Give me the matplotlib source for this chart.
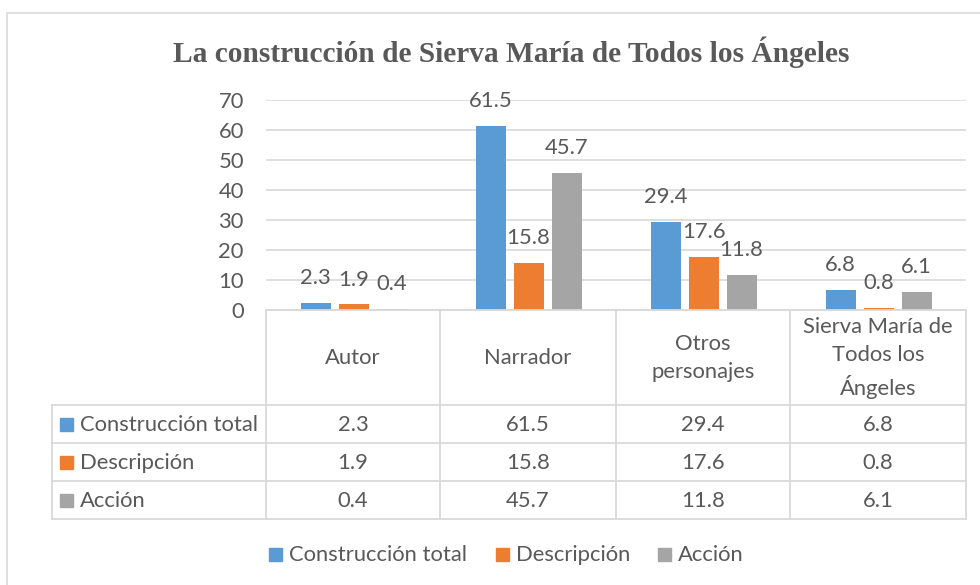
import matplotlib
matplotlib.use("Agg")
import matplotlib.pyplot as plt
import numpy as np
from matplotlib.lines import Line2D
from matplotlib.patches import Rectangle

title = "La construcción de Sierva María de Todos los Ángeles"
categories = ["Autor", "Narrador", "Otros\npersonajes", "Sierva María de\nTodos los\nÁngeles"]
series_names = ["Construcción total", "Descripción", "Acción"]
construccion_total = [2.3, 61.5, 29.4, 6.8]
descripcion = [1.9, 15.8, 17.6, 0.8]
accion = [0.4, 45.7, 11.8, 6.1]
series_values = [construccion_total, descripcion, accion]
colors = ["#5b9bd5", "#ed7d31", "#a5a5a5"]
yticks = [0, 10, 20, 30, 40, 50, 60, 70]

TXT = "#595959"
GRID = "#d9d9d9"
FONT = "Lato"
FS = 15.8

W, H = 980, 585
fig = plt.figure(figsize=(W / 100, H / 100), dpi=100)


def fx(x):
    return x / W


def fy(y):
    return 1 - y / H


# outer border
fig.patches.append(Rectangle((fx(7), fy(600)), fx(990) - fx(7), fy(13) - fy(600),
                             transform=fig.transFigure, fill=False, edgecolor=GRID, lw=1.2))

# title
fig.text(fx(511), fy(62), title, ha="center", va="baseline", family="Liberation Serif",
         weight="bold", fontsize=21.2, color=TXT)

# plot area
px0, px1, py_top, py0 = 266, 966, 100, 310
ax = fig.add_axes([fx(px0), fy(py0), fx(px1) - fx(px0), fy(py_top) - fy(py0)])
ax.set_xlim(-0.5, len(categories) - 0.5)
ax.set_ylim(0, 70)
ax.set_yticks(yticks)
ax.set_xticks([])
for s in ax.spines.values():
    s.set_visible(False)
ax.yaxis.grid(True, color=GRID, lw=1.2)
ax.set_axisbelow(True)
ax.tick_params(axis="y", length=0, pad=16, labelsize=FS, labelcolor=TXT)
for lab in ax.get_yticklabels():
    lab.set_family(FONT)

cat_px = (px1 - px0) / len(categories)
bw = 30 / cat_px
step = 38 / cat_px
x = np.arange(len(categories))
for i, (vals, col) in enumerate(zip(series_values, colors)):
    xs = x + (i - 1) * step
    ax.bar(xs, vals, width=bw, color=col, zorder=2)
    for xi, v in zip(xs, vals):
        ax.annotate(f"{v:.1f}", (xi, v), xytext=(0, 13.5), textcoords="offset points",
                    ha="center", va="baseline", fontsize=FS, color=TXT, family=FONT)

# data table
col_edges = [266, 440, 616, 790, 966]
row_edges = [405, 443, 481, 519]
lbl_left = 52
lk = dict(color=GRID, lw=1.3, transform=fig.transFigure)
fig.add_artist(Line2D([fx(266), fx(966)], [fy(310), fy(310)], **lk))
for ry in row_edges:
    fig.add_artist(Line2D([fx(lbl_left), fx(966)], [fy(ry), fy(ry)], **lk))
for cx in col_edges:
    fig.add_artist(Line2D([fx(cx), fx(cx)], [fy(310), fy(519)], **lk))
fig.add_artist(Line2D([fx(lbl_left), fx(lbl_left)], [fy(405), fy(519)], **lk))

for j, cat in enumerate(categories):
    cx = (col_edges[j] + col_edges[j + 1]) / 2
    fig.text(fx(cx), fy(358), cat, ha="center", va="center", fontsize=FS, color=TXT,
             family=FONT, linespacing=1.52, multialignment="center")

for i, (name, vals, col) in enumerate(zip(series_names, series_values, colors)):
    cy = (row_edges[i] + row_edges[i + 1]) / 2
    fig.patches.append(Rectangle((fx(60), fy(cy + 6.5)), fx(13), 13 / H,
                                 transform=fig.transFigure, color=col))
    fig.text(fx(80), fy(cy + 1), name, ha="left", va="center", fontsize=FS, color=TXT, family=FONT)
    for j, v in enumerate(vals):
        cx = (col_edges[j] + col_edges[j + 1]) / 2
        fig.text(fx(cx), fy(cy + 1), f"{v:.1f}", ha="center", va="center", fontsize=FS,
                 color=TXT, family=FONT)

# legend
leg_x = [269, 496, 658]
leg_y = 554
for name, col, lx in zip(series_names, colors, leg_x):
    fig.patches.append(Rectangle((fx(lx), fy(leg_y + 6.5)), fx(13), 13 / H,
                                 transform=fig.transFigure, color=col))
    fig.text(fx(lx + 20), fy(leg_y + 1), name, ha="left", va="center", fontsize=FS,
             color=TXT, family=FONT)

fig.savefig("out.png", dpi=100)
